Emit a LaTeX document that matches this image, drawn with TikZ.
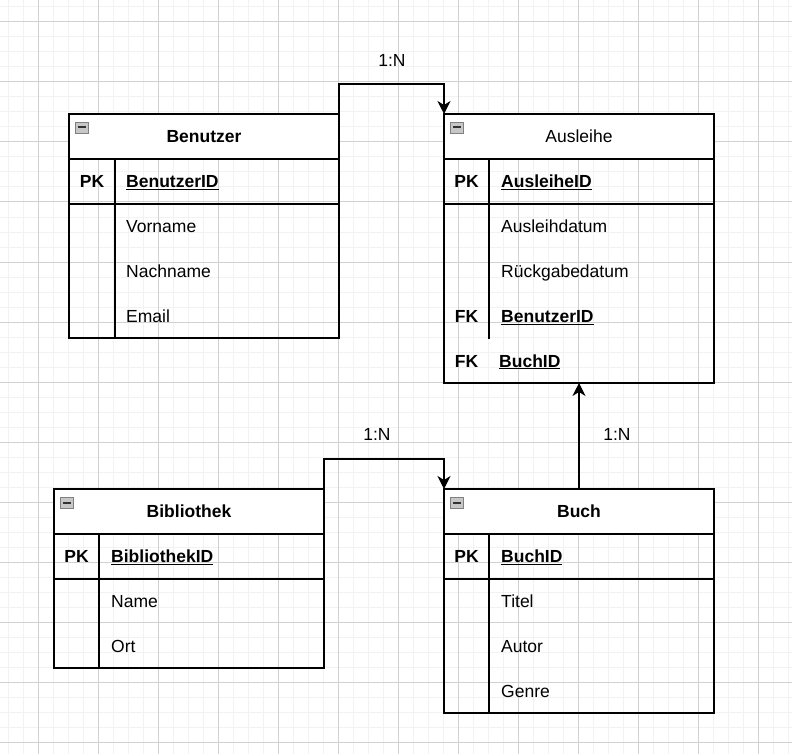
\documentclass[tikz,border=0pt]{standalone}
\usepackage{fontspec}
\setmainfont{Liberation Sans}
\usetikzlibrary{arrows.meta}

\tikzset{
  fein/.style={black!5,line width=1pt},
  grob/.style={black!18,line width=1pt},
  tabelle/.style={draw,line width=1.3pt,anchor=north west,minimum width=270pt,inner sep=0pt,outer sep=0pt},
  kopf/.style={tabelle,fill=white,minimum height=45pt,font=\fontsize{17.5}{20}\selectfont},
  trenn/.style={line width=1.3pt},
  feld/.style={anchor=base west,inner sep=0pt,font=\fontsize{17.5}{20}\selectfont},
  schluessel/.style={anchor=base,inner sep=0pt,font=\fontsize{17.5}{20}\selectfont\bfseries},
  icon/.style={draw=black!50,fill=black!22,line width=0.8pt,minimum width=13pt,minimum height=11pt,inner sep=0pt,
    path picture={\fill[black!80] ([shift={(2.5pt,-1pt)}]path picture bounding box.west) rectangle ([shift={(-2.5pt,1pt)}]path picture bounding box.east);}},
  beziehung/.style={line width=1.3pt,-{Stealth[length=13pt,width=13pt,inset=4pt]}},
  kardinal/.style={inner sep=0pt,font=\fontsize{17.5}{20}\selectfont}
}

\begin{document}
\begin{tikzpicture}[x=1pt,y=-1pt]
\useasboundingbox (0,0) rectangle (792,754);
\fill[white] (0,0) rectangle (792,754);
\foreach \x in {8,23,...,792} \draw[fein] (\x,0) -- (\x,754);
\foreach \y in {7,22,...,754} \draw[fein] (0,\y) -- (792,\y);
\foreach \x in {38,98,...,792} \draw[grob] (\x,0) -- (\x,754);
\foreach \y in {22,82,...,754} \draw[grob] (0,\y) -- (792,\y);

% Benutzer
\node[tabelle,minimum height=224pt] (benutzer) at (69,114) {};
\node[kopf] (benutzer-kopf) at (benutzer.north west) {\bfseries Benutzer};
\node[icon] (benutzer-icon) at ([shift={(12.5,13.5)}]benutzer.north west) {};
\draw[trenn] (69,204) -- (339,204);
\draw[trenn] (115,159) -- (115,338);
\node[schluessel] (benutzer-pk) at (92,187.5) {PK};
\node[feld] (benutzer-id) at (126,187.5) {\bfseries\underline{BenutzerID}};
\node[feld] (benutzer-vorname) at (126,232.5) {Vorname};
\node[feld] (benutzer-nachname) at (126,277.5) {Nachname};
\node[feld] (benutzer-email) at (126,322.5) {Email};

% Ausleihe
\node[tabelle,minimum height=269pt] (ausleihe) at (444,114) {};
\node[kopf] (ausleihe-kopf) at (ausleihe.north west) {Ausleihe};
\node[icon] (ausleihe-icon) at ([shift={(12.5,13.5)}]ausleihe.north west) {};
\draw[trenn] (444,204) -- (714,204);
\draw[trenn] (489,159) -- (489,339);
\node[schluessel] (ausleihe-pk) at (466.5,187.5) {PK};
\node[feld] (ausleihe-id) at (501,187.5) {\bfseries\underline{AusleiheID}};
\node[feld] (ausleihe-datum) at (501,232.5) {Ausleihdatum};
\node[feld] (ausleihe-rueckgabe) at (501,277.5) {Rückgabedatum};
\node[schluessel] (ausleihe-fk1) at (466.5,322.5) {FK};
\node[feld] (ausleihe-benutzer) at (501,322.5) {\bfseries\underline{BenutzerID}};
\node[schluessel] (ausleihe-fk2) at (466.5,367) {FK};
\node[feld] (ausleihe-buch) at (499,367) {\bfseries\underline{BuchID}};

% Bibliothek
\node[tabelle,minimum height=179pt] (bibliothek) at (54,489) {};
\node[kopf] (bibliothek-kopf) at (bibliothek.north west) {\bfseries Bibliothek};
\node[icon] (bibliothek-icon) at ([shift={(12.5,13.5)}]bibliothek.north west) {};
\draw[trenn] (54,579) -- (324,579);
\draw[trenn] (99,534) -- (99,668);
\node[schluessel] (bibliothek-pk) at (76.5,562.5) {PK};
\node[feld] (bibliothek-id) at (111,562.5) {\bfseries\underline{BibliothekID}};
\node[feld] (bibliothek-name) at (111,607.5) {Name};
\node[feld] (bibliothek-ort) at (111,652.5) {Ort};

% Buch
\node[tabelle,minimum height=224pt] (buch) at (444,489) {};
\node[kopf] (buch-kopf) at (buch.north west) {\bfseries Buch};
\node[icon] (buch-icon) at ([shift={(12.5,13.5)}]buch.north west) {};
\draw[trenn] (444,579) -- (714,579);
\draw[trenn] (489,534) -- (489,713);
\node[schluessel] (buch-pk) at (466.5,562.5) {PK};
\node[feld] (buch-id) at (501,562.5) {\bfseries\underline{BuchID}};
\node[feld] (buch-titel) at (501,607.5) {Titel};
\node[feld] (buch-autor) at (501,652.5) {Autor};
\node[feld] (buch-genre) at (501,697.5) {Genre};

% Beziehungen
\draw[beziehung] (benutzer.north east) -- ++(0,-30) -| (ausleihe.north west);
\draw[beziehung] (bibliothek.north east) -- ++(0,-30) -| (buch.north west);
\draw[beziehung] (buch.north) -- (ausleihe.south);
\node[kardinal] (kard-benutzer) at (392,60) {1:N};
\node[kardinal] (kard-bibliothek) at (377,434) {1:N};
\node[kardinal] (kard-buch) at (617,434) {1:N};
\end{tikzpicture}
\end{document}
